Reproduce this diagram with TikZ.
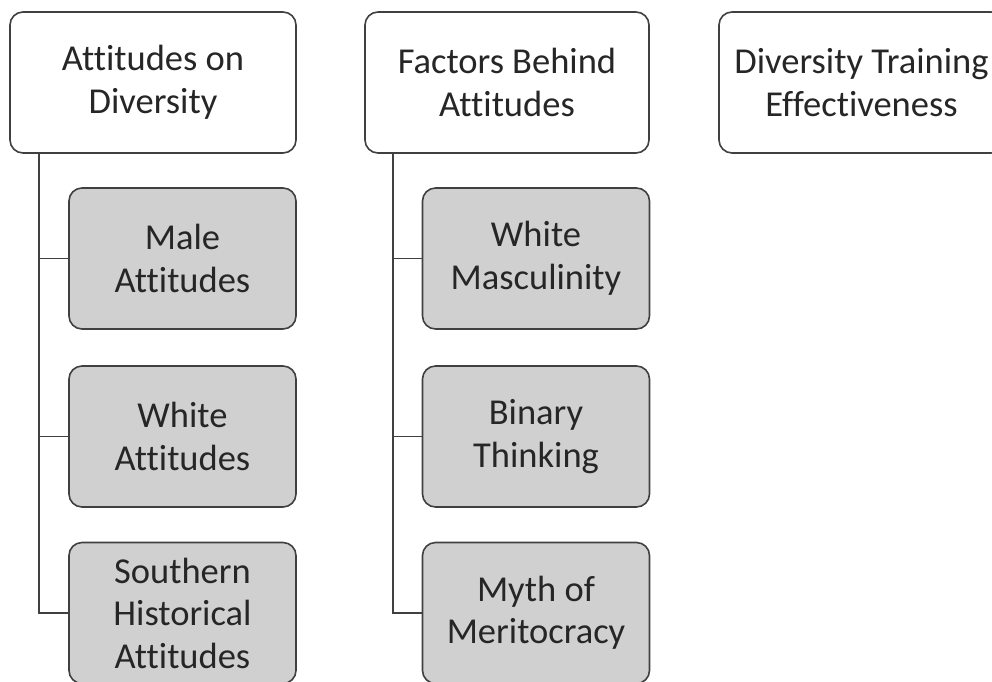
\documentclass[tikz,border=0pt]{standalone}
\usepackage{fontspec}
\setmainfont[Ligatures={NoCommon}]{Carlito}
\definecolor{edge}{HTML}{404040}
\definecolor{boxfill}{HTML}{D0D0D0}
\definecolor{txt}{HTML}{262626}
\begin{document}
\begin{tikzpicture}[x=1pt,y=-1pt,
  base/.style={draw=edge,line width=1.6pt,rounded corners=13pt,align=center,
    text=txt,font=\fontsize{36.5}{42.5}\selectfont,inner sep=0pt,
    minimum height=141pt},
  topbox/.style={base,fill=white},
  childbox/.style={base,fill=boxfill,minimum width=227pt},
  link/.style={draw=edge,line width=1.6pt}]
\useasboundingbox (0,0) rectangle (992,681);
\clip (0,0) rectangle (992,681);
\node[topbox,minimum width=286pt] (t1) at (153,82.5) {Attitudes on\\Diversity};
\node[topbox,minimum width=284pt] (t2) at (507,82.5) {Factors Behind\\Attitudes};
\node[topbox,minimum width=285pt] (t3) at (861.5,82.5) {Diversity Training\\Effectiveness};
\node[childbox] (a1) at (182.5,258.5) {Male\\Attitudes};
\node[childbox] (a2) at (182.5,436.5) {White\\Attitudes};
\node[childbox] (a3) at (182.5,613) {Southern\\Historical\\Attitudes};
\node[childbox] (b1) at (536,258.5) {White\\Masculinity};
\node[childbox] (b2) at (536,436.5) {Binary\\Thinking};
\node[childbox] (b3) at (536,613) {Myth of\\Meritocracy};
\foreach \c in {a1,a2,a3} \draw[link] ([xshift=30pt]t1.south west) |- (\c.west);
\foreach \c in {b1,b2,b3} \draw[link] ([xshift=29pt]t2.south west) |- (\c.west);
\end{tikzpicture}
\end{document}
